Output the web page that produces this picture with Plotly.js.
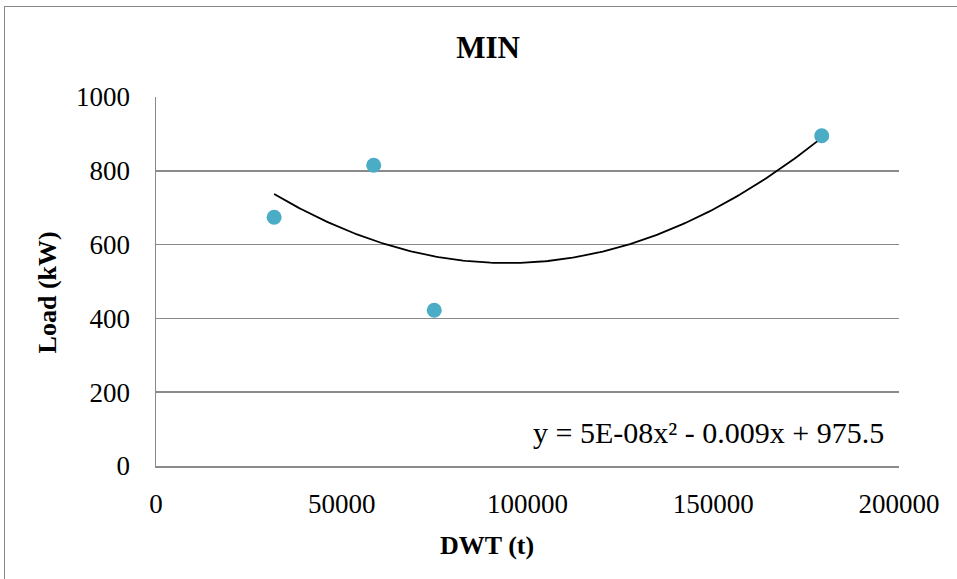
<!DOCTYPE html>
<html>
<head>
<meta charset="utf-8">
<script src="https://cdn.plot.ly/plotly-3.0.1.min.js"></script>
<style>
  html, body { margin: 0; padding: 0; background: #fff; }
  #wrap { position: relative; width: 957px; height: 579px; overflow: hidden; }
  #chart { position: absolute; left: 0; top: 0; width: 957px; height: 579px; }
  #frame { position: absolute; left: 4px; top: 6px; width: 1000px; height: 700px;
           border: 1.5px solid #878787; pointer-events: none; box-sizing: border-box; }
</style>
</head>
<body>
<div id="wrap">
  <div id="chart"></div>
  <div id="frame"></div>
</div>
<script>
// Data
const dwt  = [31800, 58600, 74900, 179200];   // DWT (t)
const load = [674, 815, 422, 895];            // Load (kW)
const xTicks = [0, 50000, 100000, 150000, 200000];
const yTicks = [0, 200, 400, 600, 800, 1000];
const equationText = "y = 5E-08x\u00B2 - 0.009x + 975.5";

// Least-squares quadratic trendline (as in the spreadsheet trendline)
function quadFit(xs, ys) {
  const n = xs.length;
  let S = [0,0,0,0,0], T = [0,0,0];
  for (let i = 0; i < n; i++) {
    const x = xs[i] / 1e5, y = ys[i];
    for (let k = 0; k < 5; k++) S[k] += Math.pow(x, k);
    for (let k = 0; k < 3; k++) T[k] += y * Math.pow(x, k);
  }
  const A = [[S[0],S[1],S[2],T[0]],[S[1],S[2],S[3],T[1]],[S[2],S[3],S[4],T[2]]];
  for (let i = 0; i < 3; i++) {
    let p = i;
    for (let r = i+1; r < 3; r++) if (Math.abs(A[r][i]) > Math.abs(A[p][i])) p = r;
    [A[i], A[p]] = [A[p], A[i]];
    for (let r = 0; r < 3; r++) if (r !== i) {
      const f = A[r][i] / A[i][i];
      for (let c = i; c < 4; c++) A[r][c] -= f * A[i][c];
    }
  }
  const c = [A[0][3]/A[0][0], A[1][3]/A[1][1], A[2][3]/A[2][2]];
  return x => { const u = x / 1e5; return c[0] + c[1]*u + c[2]*u*u; };
}
const f = quadFit(dwt, load);
const xmin = Math.min(...dwt), xmax = Math.max(...dwt);
const tx = [], ty = [];
for (let i = 0; i <= 200; i++) {
  const x = xmin + (xmax - xmin) * i / 200;
  tx.push(x); ty.push(f(x));
}

const serif = "Liberation Serif, Times New Roman, serif";

const traces = [
  { x: tx, y: ty, type: 'scatter', mode: 'lines',
    line: { color: '#000000', width: 1.8 }, hoverinfo: 'skip', showlegend: false },
  { x: dwt, y: load, type: 'scatter', mode: 'markers',
    marker: { color: '#4BACC6', size: 15 }, showlegend: false }
];

const layout = {
  width: 957, height: 579,
  margin: { l: 156, r: 58, t: 97, b: 113 },
  paper_bgcolor: 'rgba(0,0,0,0)', plot_bgcolor: '#ffffff',
  font: { family: serif, color: '#000000', size: 27 },
  title: { text: '<b>MIN</b>', font: { family: serif, size: 31, color: '#000' },
           x: 488/957, xref: 'container', xanchor: 'center',
           y: 1 - 47/579, yref: 'container', yanchor: 'middle' },
  xaxis: {
    range: [0, 200000], tickvals: xTicks, ticktext: xTicks.map(String),
    showgrid: false, zeroline: false, showline: true, linecolor: '#8a8a8a', linewidth: 1.5,
    ticks: '', ticklabelstandoff: 13, tickfont: { family: serif, size: 27 },
    fixedrange: true
  },
  yaxis: {
    range: [0, 1000], tickvals: yTicks, ticktext: yTicks.map(String),
    showgrid: true, gridcolor: '#8a8a8a', gridwidth: 1.5,
    zeroline: false, showline: true, linecolor: '#8a8a8a', linewidth: 1.5,
    ticks: '', ticklabelstandoff: 19, tickfont: { family: serif, size: 27 },
    fixedrange: true
  },
  annotations: [
    { text: '<b>DWT (t)</b>', xref: 'paper', yref: 'paper',
      x: (486.5 - 156) / 743, y: -(545 - 465.6) / 369,
      xanchor: 'center', yanchor: 'middle', showarrow: false,
      font: { family: serif, size: 26 } },
    { text: '<b>Load (kW)</b>', xref: 'paper', yref: 'paper', textangle: -90,
      x: -(156 - 47) / 743, y: (465.6 - 292) / 369,
      xanchor: 'center', yanchor: 'middle', showarrow: false,
      font: { family: serif, size: 26 } },
    { text: equationText, xref: 'paper', yref: 'paper',
      x: (886 - 156) / 743, y: (465.6 - 432) / 369,
      xanchor: 'right', yanchor: 'middle', showarrow: false,
      font: { family: serif, size: 30 } }
  ]
};

Plotly.newPlot('chart', traces, layout, { displayModeBar: false, staticPlot: true });
</script>
</body>
</html>
